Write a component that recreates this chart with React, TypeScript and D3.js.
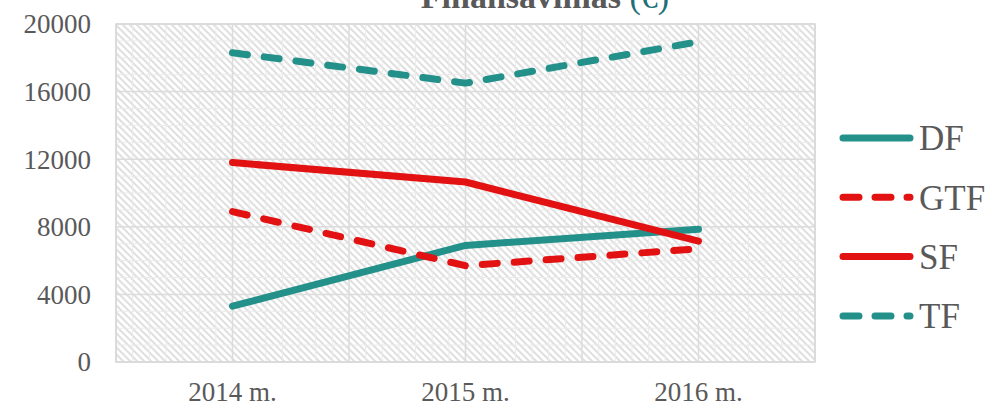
import React from 'react';
import * as d3 from 'd3';

const categories = ['2014 m.', '2015 m.', '2016 m.'];
const seriesNames = ['DF', 'GTF', 'SF', 'TF'];
const dfValues = [3300, 6900, 7850];
const gtfValues = [8900, 5700, 6700];
const sfValues = [11800, 10650, 7150];
const tfValues = [18300, 16500, 18950];
const yTicks = [0, 4000, 8000, 12000, 16000, 20000];

const TEAL = '#23918a';
const RED = '#e31212';
const TEXT = '#595959';

const series = [
  { name: seriesNames[0], values: dfValues, color: TEAL, dashed: false },
  { name: seriesNames[1], values: gtfValues, color: RED, dashed: true },
  { name: seriesNames[2], values: sfValues, color: RED, dashed: false },
  { name: seriesNames[3], values: tfValues, color: TEAL, dashed: true },
];

const W = 989;
const H = 408;
const plot = { left: 116, right: 815, top: 24, bottom: 362 };

const App = () => {
  const x = d3.scalePoint<string>().domain(categories).range([plot.left, plot.right]).padding(0.5);
  const y = d3.scaleLinear().domain([0, 20000]).range([plot.bottom, plot.top]);
  const xi = d3.scaleLinear().domain([0, categories.length]).range([plot.left, plot.right]);

  const line = d3
    .line<number>()
    .x((_, i) => x(categories[i]) as number)
    .y((d) => y(d));

  const minorY = d3.range(0, 20001, 1000);
  const majorX = d3.range(0, categories.length + 0.01, 0.5);
  const minorX = d3.range(0, categories.length * 14 + 1).map((i) => i / 14);

  const font = '"Liberation Serif", "DejaVu Serif", serif';

  return (
    <svg width={W} height={H} style={{ position: 'absolute', left: 0, top: 0 }} fontFamily={font}>
      <defs>
        <pattern id="hatch" width="7" height="7" patternUnits="userSpaceOnUse">
          <rect width="7" height="7" fill="#ffffff" />
          <path d="M-1,-1 L8,8 M-1,6 L1,8 M6,-1 L8,1" stroke="#e0e0e0" strokeWidth="2" />
        </pattern>
      </defs>

      <text x={545} y={8} textAnchor="middle" fontSize={34} fontWeight="bold" fill={TEXT}>
        Finansavimas <tspan fill="#1f6e78" fontWeight="normal">(€)</tspan>
      </text>

      <rect
        x={plot.left}
        y={plot.top}
        width={plot.right - plot.left}
        height={plot.bottom - plot.top}
        fill="url(#hatch)"
      />

      {minorY.map((v) => (
        <line key={'my' + v} x1={plot.left} x2={plot.right} y1={y(v)} y2={y(v)} stroke="#ebebeb" strokeWidth={1} />
      ))}
      {minorX.map((v) => (
        <line key={'mx' + v} x1={xi(v)} x2={xi(v)} y1={plot.top} y2={plot.bottom} stroke="#ebebeb" strokeWidth={1} />
      ))}
      {yTicks.map((v) => (
        <line key={'gy' + v} x1={plot.left} x2={plot.right} y1={y(v)} y2={y(v)} stroke="#dcdcdc" strokeWidth={1.5} />
      ))}
      {majorX.map((v) => (
        <line key={'gx' + v} x1={xi(v)} x2={xi(v)} y1={plot.top} y2={plot.bottom} stroke="#dcdcdc" strokeWidth={1.5} />
      ))}
      <rect
        x={plot.left}
        y={plot.top}
        width={plot.right - plot.left}
        height={plot.bottom - plot.top}
        fill="none"
        stroke="#d9d9d9"
        strokeWidth={1.5}
      />

      {yTicks.map((v) => (
        <text key={'yl' + v} x={91} y={y(v)} dy="0.35em" textAnchor="end" fontSize={27} fill={TEXT}>
          {v}
        </text>
      ))}
      {categories.map((c) => (
        <text key={c} x={x(c)} y={401} textAnchor="middle" fontSize={27} fill={TEXT}>
          {c}
        </text>
      ))}

      {series.map((s) => (
        <path
          key={s.name}
          d={line(s.values) as string}
          fill="none"
          stroke={s.color}
          strokeWidth={7}
          strokeLinecap="round"
          strokeLinejoin="round"
          strokeDasharray={s.dashed ? '15 17' : undefined}
        />
      ))}

      {series.map((s, i) => {
        const ly = 138 + i * 59.3;
        return (
          <g key={'lg' + s.name}>
            <line
              x1={843}
              x2={910}
              y1={ly}
              y2={ly}
              stroke={s.color}
              strokeWidth={7}
              strokeLinecap="round"
              strokeDasharray={s.dashed ? '16 16' : undefined}
            />
            <text x={919} y={ly} dy="0.35em" fontSize={35} fill={TEXT}>
              {s.name}
            </text>
          </g>
        );
      })}
    </svg>
  );
};

export default App;
